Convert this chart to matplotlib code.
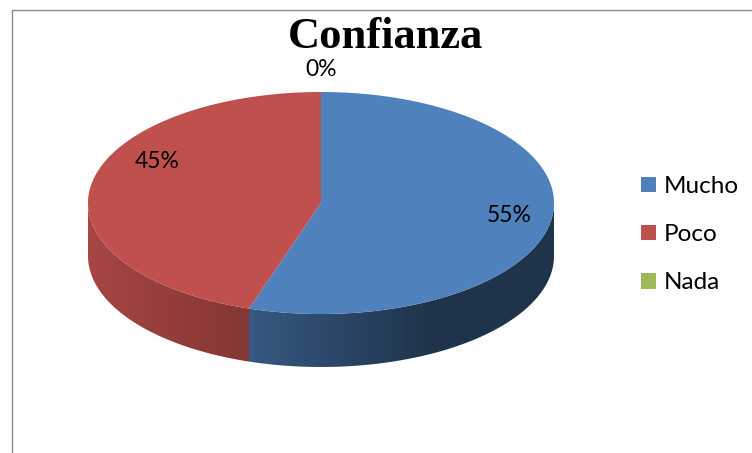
import numpy as np
import matplotlib
matplotlib.use("Agg")
import matplotlib.pyplot as plt
from matplotlib.patches import Polygon, Patch, Rectangle

categories = ["Mucho", "Poco", "Nada"]
values = [55, 45, 0]
colors = ["#4F81BD", "#C0504D", "#9BBB59"]
title = "Confianza"

# pie geometry in pixels (y grows downwards)
cx, cy = 321, 203
rx, ry = 233, 111
depth = 53

# where Excel puts the labels (radius factor, extra y shift)
label_r = [0.82, 0.71, 1.22]
label_dy = [-2, -29, 2]


def shade(x):
    # side wall darkening from left to right
    return np.interp(x, [88, 245, 430, 555], [0.87, 0.69, 0.40, 0.40])


def ellipse_pts(t):
    t = np.radians(t)
    return cx + rx * np.cos(t), cy - ry * np.sin(t)


fig = plt.figure(figsize=(7.52, 4.53), dpi=100)
ax = fig.add_axes([0, 0, 1, 1])
ax.set_xlim(0, 752)
ax.set_ylim(453, 0)
ax.axis("off")

# chart border (right and bottom sides are cut off in the original)
ax.add_patch(Rectangle((12, 10), 800, 500, fill=False, ec="#8c8c8c", lw=1.0))

total = sum(values)
fracs = np.cumsum([0] + values) / total

# side walls first
for i, v in enumerate(values):
    if v == 0:
        continue
    t0 = 90 - 360 * fracs[i]
    t1 = 90 - 360 * fracs[i + 1]
    # keep only the front half (angles between -180 and 0)
    lo, hi = max(t1, -180), min(t0, 0)
    if hi <= lo:
        continue
    t = np.linspace(hi, lo, 200)
    x, y = ellipse_pts(t)
    poly = np.vstack([np.column_stack([x, y]),
                      np.column_stack([x[::-1], y[::-1] + depth])])
    patch = Polygon(poly, closed=True, fc="none", ec="none")
    ax.add_patch(patch)
    xs = np.arange(int(x.min()) - 2, int(x.max()) + 3)
    rgb = np.array(matplotlib.colors.to_rgb(colors[i]))
    img = (rgb[None, :] * shade(xs)[:, None])[None, :, :]
    im = ax.imshow(img, extent=(xs[0], xs[-1], y.max() + depth + 2, y.min() - 2),
                   aspect="auto", interpolation="bilinear", zorder=1)
    im.set_clip_path(patch)

# top face
for i, v in enumerate(values):
    if v == 0:
        continue
    t0 = 90 - 360 * fracs[i]
    t1 = 90 - 360 * fracs[i + 1]
    t = np.linspace(t0, t1, 300)
    x, y = ellipse_pts(t)
    poly = np.vstack([[cx, cy], np.column_stack([x, y])])
    ax.add_patch(Polygon(poly, closed=True, fc=colors[i], ec="none", zorder=2))

# percentage labels
for i, v in enumerate(values):
    tm = 90 - 360 * (fracs[i] + fracs[i + 1]) / 2
    lx = cx + label_r[i] * rx * np.cos(np.radians(tm))
    ly = cy - label_r[i] * ry * np.sin(np.radians(tm)) + label_dy[i]
    ax.text(lx, ly, f"{v / total:.0%}", ha="center", va="center",
            fontsize=16.5, family="Lato", color="black", zorder=3)

ax.text(385, 37, title, ha="center", va="center", fontsize=32,
        family="Liberation Serif", fontweight="bold", zorder=3)

handles = [Patch(fc=c, ec="none") for c in colors]
ax.legend(handles, categories, loc="center left", bbox_to_anchor=(0.840, 0.482),
          frameon=False, prop={"family": "Lato", "size": 17.5},
          handlelength=0.62, handleheight=0.62, handletextpad=0.3,
          labelspacing=1.12, borderaxespad=0)

fig.savefig("out.png", dpi=100)
